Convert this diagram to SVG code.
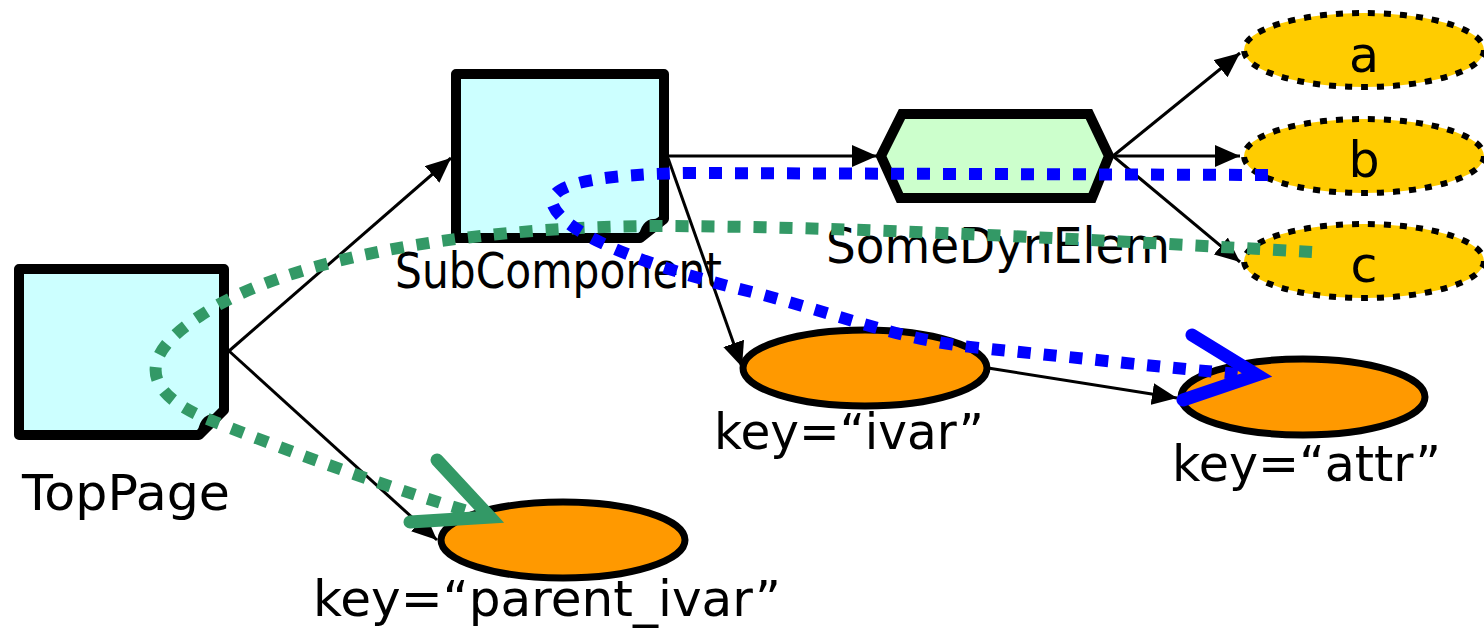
<svg xmlns="http://www.w3.org/2000/svg" width="1484" height="639" viewBox="0 0 1484 639">
<style>
.page{fill:#CCFFFF;stroke:#000;stroke-width:10;stroke-linejoin:round}
.hex{fill:#CCFFCC;stroke:#000;stroke-width:10;stroke-linejoin:miter}
.key{fill:#FF9900;stroke:#000;stroke-width:7}
.dyn{fill:#FFCC00;stroke:#000;stroke-width:6;stroke-dasharray:7 9}
.lbl{font-family:"DejaVu Sans","Liberation Sans",sans-serif;font-size:49px;fill:#000}
.edge{stroke:#000;stroke-width:3;fill:none;marker-end:url(#ah)}
.gdot{fill:none;stroke:#339966;stroke-width:12;stroke-dasharray:13 13}
.bdot{fill:none;stroke:#0000FF;stroke-width:12;stroke-dasharray:13 13}
.gch{fill:none;stroke:#339966;stroke-width:13;stroke-linecap:round;stroke-linejoin:miter}
.bch{fill:none;stroke:#0000FF;stroke-width:13;stroke-linecap:round;stroke-linejoin:miter}
</style>
<defs>
<marker id="ah" markerUnits="userSpaceOnUse" markerWidth="26" markerHeight="22" refX="25" refY="11" orient="auto">
<path d="M0,0 L25,11 L0,22 Z" fill="#000"/>
</marker>
</defs>
<rect width="1484" height="639" fill="#fff"/>
<g id="TopPage">
<path class="page" d="M19,269 H224 V410 L199,435 H19 Z"/>
<path d="M197,437 Q199,414 214,414 L226,409 Z" fill="#000"/>
<text class="lbl" x="22" y="510" textLength="208" lengthAdjust="spacingAndGlyphs">TopPage</text>
</g>
<g id="SubComponent">
<path class="page" d="M456,74 H664 V219 L640,238 H456 Z"/>
<path d="M638,240 Q641,219 654,219 L666,217 Z" fill="#000"/>
<text class="lbl" x="395" y="288" textLength="327" lengthAdjust="spacingAndGlyphs">SubComponent</text>
</g>
<g id="SomeDynElem">
<path class="hex" d="M881,156 L902,114 L1089,114 L1109,156 L1092,198 L900,198 Z"/>
<text class="lbl" x="826" y="263" textLength="344" lengthAdjust="spacingAndGlyphs">SomeDynElem</text>
</g>
<g id="a">
<ellipse class="dyn" cx="1364" cy="50" rx="120" ry="37"/>
<text class="lbl" x="1364" y="72" text-anchor="middle">a</text>
</g>
<g id="b">
<ellipse class="dyn" cx="1364" cy="156" rx="120" ry="37"/>
<text class="lbl" x="1364" y="177" text-anchor="middle">b</text>
</g>
<g id="c">
<ellipse class="dyn" cx="1364" cy="261" rx="120" ry="37"/>
<text class="lbl" x="1364" y="282" text-anchor="middle">c</text>
</g>
<g id="ivar">
<ellipse class="key" cx="865" cy="368" rx="122" ry="38"/>
<text class="lbl" x="714" y="449" textLength="270" lengthAdjust="spacingAndGlyphs">key=“ivar”</text>
</g>
<g id="attr">
<ellipse class="key" cx="1303" cy="397" rx="122" ry="38"/>
<text class="lbl" x="1172" y="481" textLength="269" lengthAdjust="spacingAndGlyphs">key=“attr”</text>
</g>
<g id="parent_ivar">
<ellipse class="key" cx="563" cy="540" rx="122" ry="38"/>
<text class="lbl" x="313" y="616" textLength="468" lengthAdjust="spacingAndGlyphs">key=“parent_ivar”</text>
</g>
<g id="connectors">
<path class="edge" d="M229,351 L451,158"/>
<path class="edge" d="M229,351 L437,540"/>
<path class="edge" d="M669,156 L877,156"/>
<path class="edge" d="M668,158 L742,367"/>
<path class="edge" d="M988,368 L1177,398"/>
<path class="edge" d="M1113,156 L1240,53"/>
<path class="edge" d="M1113,156 L1240,156"/>
<path class="edge" d="M1113,156 L1240,262"/>
</g>
<g id="traces">
<path class="gdot" d="M1312,252 C1100,240 850,226 650,226 C450,228 280,262 200,316 C140,355 140,390 205,418 C290,452 400,492 478,514"/>
<polyline class="gch" points="437,460 490,517 410,522"/>
<path class="bdot" d="M1268,175 L690,173 C610,174 545,182 553,205 C565,235 650,268 760,294 C850,318 900,340 980,348 C1080,358 1170,368 1238,374"/>
<polyline class="bch" points="1192,335 1257,375 1183,400"/>
</g>
</svg>
